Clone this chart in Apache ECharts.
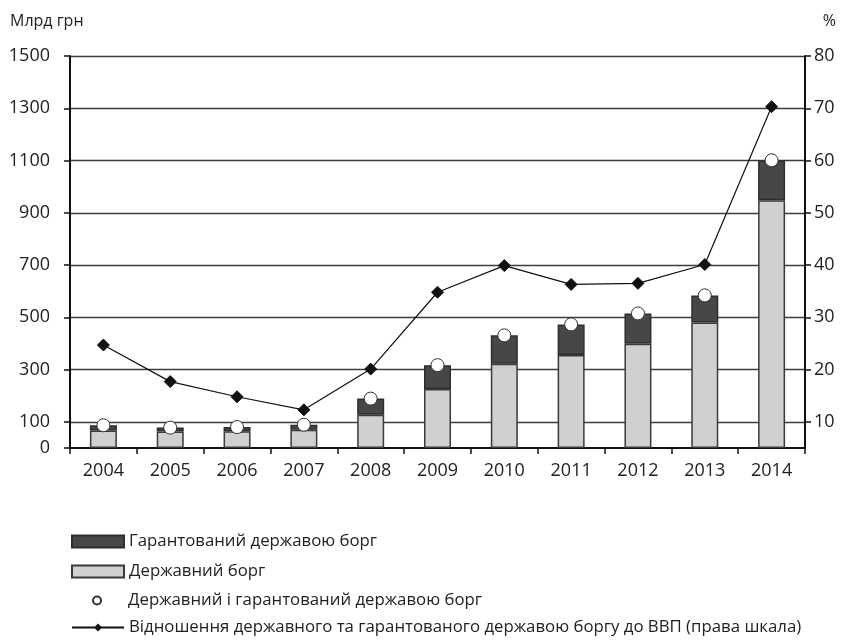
<!DOCTYPE html>
<html>
<head>
<meta charset="utf-8">
<script src="https://cdn.jsdelivr.net/npm/echarts@6/dist/echarts.min.js"></script>
<style>
  html, body { margin: 0; padding: 0; background: #fff; }
  #main { width: 847px; height: 640px; }
</style>
</head>
<body>
<div id="main"></div>
<script>
// роки
var years = ['2004', '2005', '2006', '2007', '2008', '2009', '2010', '2011', '2012', '2013', '2014'];
// Державний борг, млрд грн
var stateDebt = [67, 63, 64, 70, 127, 226, 322, 356, 399, 480, 948];
// Гарантований державою борг, млрд грн
var guaranteedDebt = [20, 15, 16, 19, 62, 91, 109, 117, 116, 104, 153];
// Державний і гарантований державою борг, млрд грн
var totalDebt = [87, 78, 80, 89, 189, 317, 431, 473, 515, 584, 1101];
// Відношення до ВВП, %
var debtToGdp = [24.7, 17.7, 14.8, 12.3, 20.1, 34.8, 39.9, 36.3, 36.5, 40.1, 70.3];
// підписи шкал
var leftTicks = [0, 100, 300, 500, 700, 900, 1100, 1300, 1500];
var rightTicks = [10, 20, 30, 40, 50, 60, 70, 80];

var names = [
    'Гарантований державою борг',
    'Державний борг',
    'Державний і гарантований державою борг',
    'Відношення державного та гарантованого державою боргу до ВВП (права шкала)'
];

var font = '"Open Sans", "Noto Sans", sans-serif';
var chart = echarts.init(document.getElementById('main'));

function legendRow(name, left, top, w, h, icon) {
    var l = {
        data: [name],
        left: left,
        top: top,
        padding: 0,
        itemWidth: w,
        itemHeight: h,
        selectedMode: false,
        textStyle: { fontFamily: font, fontSize: 16.8, color: '#222' }
    };
    if (icon) l.icon = icon;
    return l;
}

var option = {
    backgroundColor: '#fff',
    animation: false,
    textStyle: { fontFamily: font },
    title: [
        { text: 'Млрд грн', left: 5, top: 8, textStyle: { fontSize: 16, fontWeight: 'normal', color: '#222', fontFamily: font } },
        { text: '%', right: 6, top: 8, textStyle: { fontSize: 16, fontWeight: 'normal', color: '#222', fontFamily: font } }
    ],
    legend: [
        legendRow(names[0], 71, 533, 52, 12, 'rect'),
        legendRow(names[1], 71, 563, 52, 12, 'rect'),
        legendRow(names[2], 92, 592, 52, 8),
        legendRow(names[3], 71, 619, 52, 10)
    ],
    grid: { left: 70, right: 42, top: 56, bottom: 192 },
    xAxis: {
        type: 'category',
        data: years,
        axisLine: { lineStyle: { color: '#111', width: 2 } },
        axisTick: { show: true, length: 6, lineStyle: { color: '#111', width: 1.5 } },
        axisLabel: { fontSize: 18, color: '#222', margin: 14, fontFamily: font }
    },
    yAxis: [
        {
            type: 'value',
            min: 0,
            max: 1500,
            axisLine: { show: true, lineStyle: { color: '#111', width: 2 } },
            axisTick: { show: true, length: 6, customValues: leftTicks, lineStyle: { color: '#111', width: 1.5 } },
            axisLabel: {
                customValues: leftTicks,
                formatter: function (v) { return String(v); },
                fontSize: 18, color: '#222', margin: 20, fontFamily: font
            },
            splitLine: { show: false }
        },
        {
            type: 'value',
            min: 5,
            max: 80,
            minInterval: 10,
            maxInterval: 10,
            position: 'right',
            axisLine: { show: true, lineStyle: { color: '#111', width: 2 } },
            axisTick: { show: true, length: 6, customValues: rightTicks, lineStyle: { color: '#111', width: 1.5 } },
            axisLabel: { customValues: rightTicks, fontSize: 18, color: '#222', margin: 9, fontFamily: font },
            splitLine: { show: true, lineStyle: { color: '#3c3c3c', width: 1.3 } }
        }
    ],
    series: [
        {
            name: names[1],
            type: 'bar',
            stack: 'debt',
            barWidth: 27,
            data: stateDebt,
            itemStyle: { color: '#d0d0d1', borderColor: '#3a3a3a', borderWidth: 1.5 },
            z: 2
        },
        {
            name: names[0],
            type: 'bar',
            stack: 'debt',
            barWidth: 27,
            data: guaranteedDebt,
            itemStyle: { color: '#474747', borderColor: '#2e2e2e', borderWidth: 1.5 },
            z: 2
        },
        {
            name: names[2],
            type: 'scatter',
            data: totalDebt,
            symbol: 'circle',
            symbolSize: 13,
            itemStyle: { color: '#fff', borderColor: '#333', borderWidth: 1, opacity: 1 },
            z: 4
        },
        {
            name: names[3],
            type: 'line',
            yAxisIndex: 1,
            data: debtToGdp,
            symbol: 'diamond',
            symbolSize: 12,
            lineStyle: { color: '#111', width: 1.2 },
            itemStyle: { color: '#111', borderColor: '#111' },
            z: 5
        }
    ]
};

chart.setOption(option);
</script>
</body>
</html>
